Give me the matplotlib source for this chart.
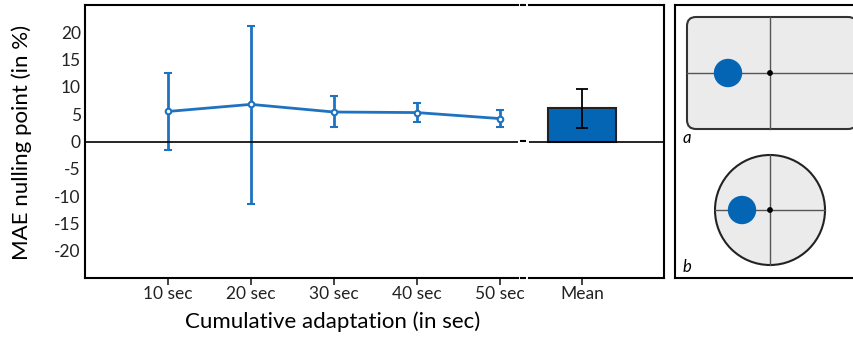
import matplotlib
matplotlib.use("Agg")
from matplotlib import pyplot as plt
from matplotlib.patches import FancyBboxPatch, Circle
from matplotlib.lines import Line2D

plt.rcParams['font.family'] = ['Lato', 'DejaVu Sans']
plt.rcParams['axes.unicode_minus'] = False

# data
durations = [10, 20, 30, 40, 50]
tick_labels = ['10 sec', '20 sec', '30 sec', '40 sec', '50 sec']
nulling = [5.5, 6.8, 5.4, 5.3, 4.2]
err_low = [-1.6, -11.4, 2.7, 3.6, 2.6]
err_high = [12.6, 21.2, 8.3, 7.0, 5.7]
mean_label = ['Mean']
mean_value = [6.05]
mean_err = [3.5]

line_col = '#1f72c0'
bar_col = '#0565b5'

W, H = 854, 338
fig = plt.figure(figsize=(W / 100, H / 100), dpi=100)


def px_axes(x0, y0, x1, y1):
    # axes placed by pixel box (top-left origin)
    return fig.add_axes([x0 / W, 1 - y1 / H, (x1 - x0) / W, (y1 - y0) / H])


ax1 = px_axes(85, 5, 518, 278)
ax2 = px_axes(529, 5, 664, 278)

lo = [m - l for m, l in zip(nulling, err_low)]
hi = [h - m for m, h in zip(nulling, err_high)]
ax1.errorbar(durations, nulling, yerr=[lo, hi], color=line_col, lw=2,
             elinewidth=2, capsize=3, capthick=2, marker='o', ms=4,
             mfc='white', mec=line_col, mew=1.5)
ax1.axhline(0, color='black', lw=1.2)
ax1.set_xlim(0, 52.2)
ax1.set_xticks(durations)
ax1.set_xticklabels(tick_labels)

ax2.bar([0], mean_value, width=0.5, color=bar_col, edgecolor='#222222', lw=1.5,
        yerr=mean_err, capsize=4.5, error_kw=dict(ecolor='black', elinewidth=1.3, capthick=1.3))
ax2.axhline(0, color='black', lw=1.2)
ax2.set_xlim(-0.395, 0.61)
ax2.set_xticks([0])
ax2.set_xticklabels(mean_label)

for ax in (ax1, ax2):
    ax.set_ylim(-25, 25)
    for s in ax.spines.values():
        s.set_linewidth(1.5)
    ax.tick_params(labelsize=12.5, length=5, width=1.2, colors='#222222')
ax1.spines['right'].set_visible(False)
ax2.spines['left'].set_visible(False)
ax2.tick_params(axis='y', left=False, labelleft=False)
ax1.set_yticks(range(-20, 25, 5))
ax1.tick_params(axis='y', length=0, pad=3)
ax1.tick_params(axis='x', length=5, pad=1)
ax2.tick_params(axis='x', length=5, pad=1)

# small dashes in the axis break
for yp in (5, 141, 278):
    fig.add_artist(Line2D([521 / W, 525 / W], [1 - yp / H] * 2, color='black', lw=1.5))

fig.text(22 / W, 1 - 142 / H, 'MAE nulling point (in %)', fontsize=16, rotation=90,
         ha='center', va='center')
fig.text(333 / W, 1 - 322 / H, 'Cumulative adaptation (in sec)', fontsize=16,
         ha='center', va='center')

# schematic panel
ax3 = px_axes(675, 5, 880, 278)
ax3.set_xlim(675, 880)
ax3.set_ylim(278, 5)
ax3.set_xticks([])
ax3.set_yticks([])
for s in ax3.spines.values():
    s.set_linewidth(1.5)

ax3.add_patch(FancyBboxPatch((687, 17), 170, 112, boxstyle='round,pad=0,rounding_size=9',
                             fc='#ebebeb', ec='#333333', lw=1.5))
ax3.plot([770, 770], [17, 129], color='#555555', lw=1)
ax3.plot([687, 857], [73, 73], color='#555555', lw=1)
ax3.add_patch(Circle((728, 73), 13.5, color=bar_col, zorder=3))
ax3.add_patch(Circle((770, 73), 2.2, color='black', zorder=4))
ax3.text(683, 138, 'a', fontsize=12, style='italic', va='center')

ax3.add_patch(Circle((770, 210), 55, fc='#ebebeb', ec='#222222', lw=1.5))
ax3.plot([770, 770], [155, 265], color='#555555', lw=1)
ax3.plot([715, 825], [210, 210], color='#555555', lw=1)
ax3.add_patch(Circle((742, 210), 13.5, color=bar_col, zorder=3))
ax3.add_patch(Circle((770, 210), 2.2, color='black', zorder=4))
ax3.text(683, 267, 'b', fontsize=12, style='italic', va='center')

fig.savefig('out.png', dpi=100)
